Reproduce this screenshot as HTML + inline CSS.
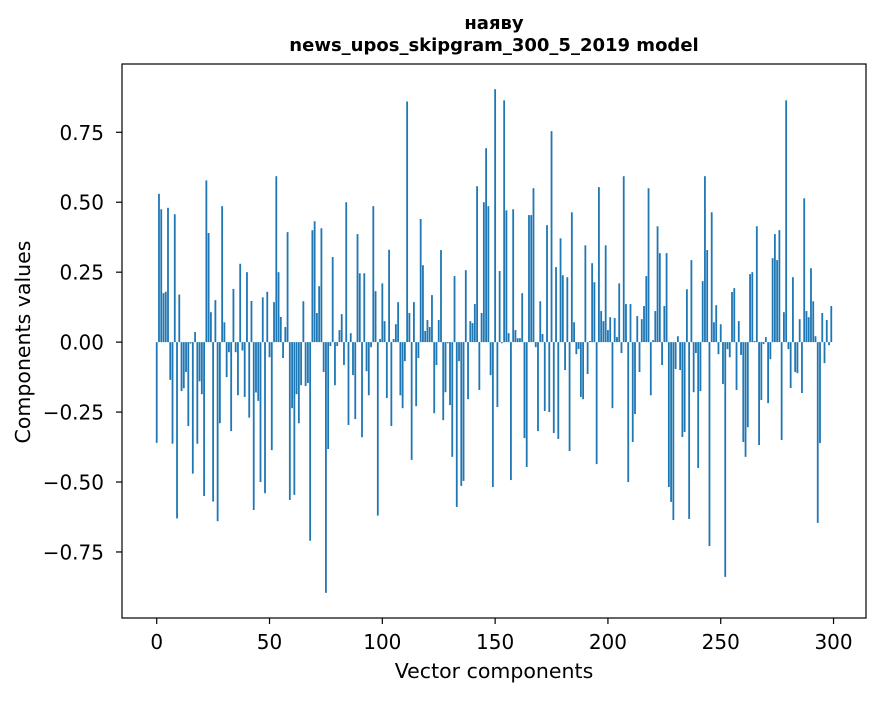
<!DOCTYPE html>
<html><head><meta charset="utf-8"><style>
body{margin:0;background:#fff;}
svg text{font-family:"DejaVu Sans","Liberation Sans",sans-serif;fill:#000;}
</style></head><body>
<svg id="chart" width="880" height="696" xmlns="http://www.w3.org/2000/svg">
<rect x="0" y="0" width="880" height="696" fill="#fff"/>
<text x="494" y="29" text-anchor="middle" font-size="18" font-weight="bold">наяву</text>
<text x="494" y="51" text-anchor="middle" font-size="18" font-weight="bold">news_upos_skipgram_300_5_2019 model</text>
<g id="bars"></g>
<g id="xticks"></g>
<g id="yticks"></g>
<rect x="122" y="64" width="744" height="554" fill="none" stroke="#000" stroke-width="1.2"/>
<text x="494" y="678" text-anchor="middle" font-size="20.5">Vector components</text>
<text x="30" y="342" text-anchor="middle" font-size="20.5" transform="rotate(-90 30 342)">Components values</text>
</svg>
<script>
const values = [-0.36,0.53,0.475,0.175,0.18,0.48,-0.135,-0.363,0.457,-0.63,
0.17,-0.175,-0.165,-0.107,-0.30,-0.005,-0.47,0.036,-0.363,-0.14,
-0.186,-0.55,0.578,0.39,0.107,-0.57,0.15,-0.64,-0.29,0.486,
0.071,-0.125,-0.036,-0.318,0.19,-0.036,-0.19,0.28,-0.03,-0.196,
0.25,-0.27,0.147,-0.60,-0.18,-0.21,-0.50,0.16,-0.54,0.18,
-0.054,-0.386,0.143,0.593,0.25,0.09,-0.057,0.054,0.393,-0.564,
-0.236,-0.546,-0.186,-0.29,-0.154,0.146,-0.157,-0.146,-0.71,0.4,
0.432,0.104,0.2,0.407,-0.107,-0.896,-0.382,-0.014,0.304,-0.154,
-0.014,0.043,0.1,-0.082,0.5,-0.296,0.032,-0.118,-0.275,0.386,
0.246,-0.34,0.246,-0.104,-0.19,-0.018,0.486,0.182,-0.62,0.011,
0.21,0.075,-0.2,0.33,-0.30,0.011,0.064,0.143,-0.19,-0.236,
-0.068,0.86,0.104,-0.421,0.143,-0.229,-0.057,0.44,0.275,0.04,
0.079,0.054,0.168,-0.254,-0.082,0.079,0.329,-0.279,-0.179,-0.004,
-0.225,-0.41,0.236,-0.589,-0.068,-0.514,-0.496,0.257,-0.204,0.075,
0.068,0.136,0.557,-0.171,0.104,0.5,0.693,0.486,-0.118,-0.518,
0.904,-0.232,0.254,-0.004,0.864,0.471,0.032,-0.493,0.475,0.043,
0.014,0.014,0.175,-0.343,-0.446,0.454,0.454,0.55,-0.018,-0.318,
0.146,0.029,-0.246,0.418,-0.25,0.754,-0.325,0.268,-0.346,0.371,
0.239,-0.1,0.232,-0.389,0.464,0.071,-0.043,-0.025,-0.196,-0.204,
0.346,-0.114,0.004,0.282,0.214,-0.436,0.554,0.111,0.075,0.346,
0.043,0.089,-0.236,0.086,0.018,0.21,-0.039,0.593,0.136,-0.5,
0.136,-0.357,-0.257,0.093,-0.107,0.082,0.129,0.236,0.55,-0.19,
0.007,0.111,0.414,0.318,-0.082,0.129,0.318,-0.518,-0.571,-0.636,
-0.096,0.021,-0.1,-0.339,-0.321,0.189,-0.632,0.293,-0.179,-0.039,
-0.45,-0.175,0.218,0.593,0.329,-0.729,0.464,0.071,0.132,-0.043,
0.064,-0.15,-0.839,-0.025,-0.054,0.179,0.193,-0.171,0.075,-0.046,
-0.357,-0.41,-0.304,0.243,0.25,0.004,0.414,-0.368,-0.207,-0.007,
0.018,-0.218,-0.061,0.3,0.386,0.293,0.4,-0.35,0.107,0.864,
-0.025,-0.164,0.232,-0.107,-0.111,0.082,-0.182,0.514,0.111,0.089,
0.264,0.146,0.021,-0.646,-0.361,0.104,-0.075,0.079,-0.011,0.129];
const xTickValues = [0,50,100,150,200,250,300];
const yTickValues = [-0.75,-0.5,-0.25,0,0.25,0.5,0.75];
const yTickLabels = ["−0.75","−0.50","−0.25","0.00","0.25","0.50","0.75"];

const plotL=122, plotR=866, plotT=64, plotB=618;
const xMin=-15.39, xMax=314.39, yMin=-0.986, yMax=0.994;
function xs(v){return plotL+(v-xMin)/(xMax-xMin)*(plotR-plotL);}
function ys(v){return plotB-(v-yMin)/(yMax-yMin)*(plotB-plotT);}
const NS="http://www.w3.org/2000/svg";
const barsG=document.getElementById('bars');
values.forEach((v,i)=>{
  const r=document.createElementNS(NS,'rect');
  const x0=xs(i-0.4), x1=xs(i+0.4);
  const y0=ys(Math.max(v,0)), y1=ys(Math.min(v,0));
  r.setAttribute('x',x0);r.setAttribute('width',x1-x0);
  r.setAttribute('y',y0);r.setAttribute('height',Math.max(y1-y0,0.3));
  r.setAttribute('fill','#1f77b4');
  
  
  barsG.appendChild(r);
});
const xg=document.getElementById('xticks');
xTickValues.forEach(t=>{
  const x=xs(t);
  const l=document.createElementNS(NS,'line');
  l.setAttribute('x1',x);l.setAttribute('x2',x);l.setAttribute('y1',plotB);l.setAttribute('y2',plotB+6);
  l.setAttribute('stroke','#000');l.setAttribute('stroke-width','1.2');
  
  
  xg.appendChild(l);
  const tx=document.createElementNS(NS,'text');
  tx.setAttribute('x',x);tx.setAttribute('y',649);tx.setAttribute('text-anchor','middle');tx.setAttribute('font-size','20');
  tx.textContent=String(t);
  
  
  xg.appendChild(tx);
});
const yg=document.getElementById('yticks');
yTickValues.forEach((t,i)=>{
  const y=ys(t);
  const l=document.createElementNS(NS,'line');
  l.setAttribute('x1',plotL-6);l.setAttribute('x2',plotL);l.setAttribute('y1',y);l.setAttribute('y2',y);
  l.setAttribute('stroke','#000');l.setAttribute('stroke-width','1.2');
  
  
  yg.appendChild(l);
  const tx=document.createElementNS(NS,'text');
  tx.setAttribute('x',plotL-18);tx.setAttribute('y',y+7.5);tx.setAttribute('text-anchor','end');tx.setAttribute('font-size','20');
  tx.textContent=yTickLabels[i];
  
  
  yg.appendChild(tx);
});
</script>
</body></html>
